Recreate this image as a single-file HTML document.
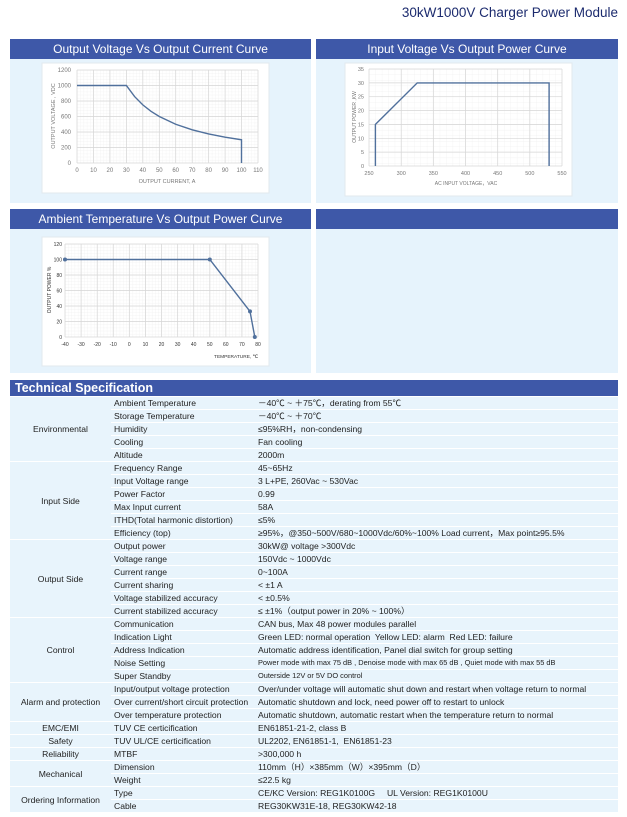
<!DOCTYPE html>
<html><head><meta charset="utf-8"><style>
html,body{margin:0;padding:0;background:#fff;width:627px;height:817px;overflow:hidden;position:relative;font-family:"Liberation Sans",Arial,sans-serif}
.abs{position:absolute}
.title{left:300px;width:318px;top:5px;text-align:right;font-size:13.5px;color:#1c2b6e}
.panel{background:#e6f3fc}
.hdr{background:#3e58a8;color:#fff;font-size:12px;text-align:center;line-height:20px;height:20px}
table{border-collapse:collapse;position:absolute;left:10px;top:396px;width:608px;table-layout:fixed;font-size:8.6px;color:#222}
td{height:12px;padding:0 0 0 3px;background:#e8f4fc;border-top:1px solid #fff;white-space:nowrap;overflow:hidden;line-height:12px}
td.g{text-align:center;padding:0}
</style></head><body>
<div class="abs title">30kW1000V Charger Power Module</div>

<div class="abs panel" style="left:10px;top:39px;width:301px;height:164px"></div>
<div class="abs panel" style="left:316px;top:39px;width:302px;height:164px"></div>
<div class="abs panel" style="left:10px;top:209px;width:301px;height:164px"></div>
<div class="abs panel" style="left:316px;top:209px;width:302px;height:164px"></div>
<div class="abs hdr" style="left:10px;top:39px;width:301px">Output Voltage Vs Output Current Curve</div>
<div class="abs hdr" style="left:316px;top:39px;width:302px">Input Voltage Vs Output Power Curve</div>
<div class="abs hdr" style="left:10px;top:209px;width:301px">Ambient Temperature Vs Output Power Curve</div>
<div class="abs hdr" style="left:316px;top:209px;width:302px"></div>
<div class="abs" style="left:10px;top:380px;width:608px;height:16px;background:#3e58a8;color:#fff;font-weight:bold;font-size:12.5px;line-height:16px;padding-left:5px;box-sizing:border-box">Technical Specification</div>

<svg class="abs" style="left:0;top:0" width="627" height="380" font-family="Liberation Sans,Arial,sans-serif">
<defs>
<pattern id="g1" x="77" y="70" width="3.29" height="3.1" patternUnits="userSpaceOnUse"><path d="M0 0V3.1M0 0H3.29" stroke="#efefef" stroke-width="0.6" fill="none"/></pattern>
<pattern id="g2" x="369" y="69" width="6.43" height="5.54" patternUnits="userSpaceOnUse"><path d="M0 0V5.54M0 0H6.43" stroke="#efefef" stroke-width="0.6" fill="none"/></pattern>
<pattern id="g3" x="65" y="244" width="3.22" height="3.1" patternUnits="userSpaceOnUse"><path d="M0 0V3.1M0 0H3.22" stroke="#efefef" stroke-width="0.6" fill="none"/></pattern>
</defs>
<rect x="42" y="63" width="227" height="130" fill="#fff" stroke="#e2e8ee"/>
<rect x="77" y="70" width="181" height="93" fill="url(#g1)"/>
<g stroke="#d6d6d6" stroke-width="0.7">
<path d="M77 70V163M93.5 70V163M109.9 70V163M126.4 70V163M142.8 70V163M159.3 70V163M175.7 70V163M192.2 70V163M208.6 70V163M225.1 70V163M241.5 70V163M258 70V163"/>
<path d="M77 70H258M77 85.5H258M77 101H258M77 116.5H258M77 132H258M77 147.5H258M77 163H258"/>
</g>
<polyline fill="none" stroke="#50709c" stroke-width="1.4" points="77,85.5 126.4,85.5 134.6,96.6 142.8,104.9 151,111.3 159.3,116.5 175.7,124.25 192.2,129.8 208.6,133.9 225.1,137.2 241.5,139.75 241.5,163"/>
<g font-size="6" fill="#777" text-anchor="end">
<text x="71" y="72">1200</text><text x="71" y="87.5">1000</text><text x="71" y="103">800</text><text x="71" y="118.5">600</text><text x="71" y="134">400</text><text x="71" y="149.5">200</text><text x="71" y="165">0</text></g>
<g font-size="6" fill="#777" text-anchor="middle">
<text x="77" y="172">0</text><text x="93.5" y="172">10</text><text x="109.9" y="172">20</text><text x="126.4" y="172">30</text><text x="142.8" y="172">40</text><text x="159.3" y="172">50</text><text x="175.7" y="172">60</text><text x="192.2" y="172">70</text><text x="208.6" y="172">80</text><text x="225.1" y="172">90</text><text x="241.5" y="172">100</text><text x="258" y="172">110</text>
<text x="167" y="183" font-size="5.5">OUTPUT CURRENT, A</text>
<text transform="translate(55,116) rotate(-90)" font-size="5.5">OUTPUT VOLTAGE , VDC</text></g>

<rect x="345" y="63" width="227" height="133" fill="#fff" stroke="#e2e8ee"/>
<rect x="369" y="69" width="193" height="97" fill="url(#g2)"/>
<g stroke="#d6d6d6" stroke-width="0.7">
<path d="M369 69V166M401.2 69V166M433.3 69V166M465.5 69V166M497.7 69V166M529.8 69V166M562 69V166"/>
<path d="M369 69H562M369 82.9H562M369 96.7H562M369 110.6H562M369 124.4H562M369 138.3H562M369 152.1H562M369 166H562"/>
</g>
<polyline fill="none" stroke="#50709c" stroke-width="1.4" points="375.4,166 375.4,124.4 417.2,82.9 549.1,82.9 549.1,166"/>
<g font-size="5.5" fill="#777" text-anchor="end">
<text x="364" y="71">35</text><text x="364" y="85">30</text><text x="364" y="98.7">25</text><text x="364" y="112.6">20</text><text x="364" y="126.4">15</text><text x="364" y="140.3">10</text><text x="364" y="154.1">5</text><text x="364" y="168">0</text></g>
<g font-size="5.5" fill="#777" text-anchor="middle">
<text x="369" y="175">250</text><text x="401.2" y="175">300</text><text x="433.3" y="175">350</text><text x="465.5" y="175">400</text><text x="497.7" y="175">450</text><text x="529.8" y="175">500</text><text x="562" y="175">550</text>
<text x="466" y="185" font-size="5">AC INPUT VOLTAGE，VAC</text>
<text transform="translate(356,117) rotate(-90)" font-size="5">OUTPUT POWER ,KW</text></g>

<rect x="42" y="237" width="227" height="129" fill="#fff" stroke="#e2e8ee"/>
<rect x="65" y="244" width="193" height="93" fill="url(#g3)"/>
<g stroke="#d6d6d6" stroke-width="0.7">
<path d="M65 244V337M81.1 244V337M97.2 244V337M113.2 244V337M129.3 244V337M145.4 244V337M161.5 244V337M177.6 244V337M193.7 244V337M209.8 244V337M225.8 244V337M241.9 244V337M258 244V337"/>
<path d="M65 244H258M65 259.5H258M65 275H258M65 290.5H258M65 306H258M65 321.5H258M65 337H258"/>
</g>
<polyline fill="none" stroke="#50709c" stroke-width="1.4" points="65,259.5 209.8,259.5 250,311.4 254.8,337"/>
<g fill="#50709c"><circle cx="65" cy="259.5" r="2"/><circle cx="209.8" cy="259.5" r="2"/><circle cx="250" cy="311.4" r="2"/><circle cx="254.8" cy="337" r="2"/></g>
<g font-size="5" fill="#333" text-anchor="end">
<text x="62" y="246">120</text><text x="62" y="261.5">100</text><text x="62" y="277">80</text><text x="62" y="292.5">60</text><text x="62" y="308">40</text><text x="62" y="323.5">20</text><text x="62" y="339">0</text></g>
<g font-size="5" fill="#333" text-anchor="middle">
<text x="65" y="346">-40</text><text x="81.1" y="346">-30</text><text x="97.2" y="346">-20</text><text x="113.2" y="346">-10</text><text x="129.3" y="346">0</text><text x="145.4" y="346">10</text><text x="161.5" y="346">20</text><text x="177.6" y="346">30</text><text x="193.7" y="346">40</text><text x="209.8" y="346">50</text><text x="225.8" y="346">60</text><text x="241.9" y="346">70</text><text x="258" y="346">80</text>
<text x="236" y="358" font-size="4.8">TEMPERATURE, ℃</text>
<text transform="translate(51,290) rotate(-90)" font-size="5">OUTPUT POWER %</text></g>
</svg>

<table>
<colgroup><col style="width:101px"><col style="width:144px"><col></colgroup>
<tr><td class="g" rowspan="5">Environmental</td><td>Ambient Temperature</td><td>－40℃ ~ ＋75℃，derating from 55℃</td></tr>
<tr><td>Storage Temperature</td><td>－40℃ ~ ＋70℃</td></tr>
<tr><td>Humidity</td><td>≤95%RH，non-condensing</td></tr>
<tr><td>Cooling</td><td>Fan cooling</td></tr>
<tr><td>Altitude</td><td>2000m</td></tr>
<tr><td class="g" rowspan="6">Input Side</td><td>Frequency Range</td><td>45~65Hz</td></tr>
<tr><td>Input Voltage range</td><td>3 L+PE, 260Vac ~ 530Vac</td></tr>
<tr><td>Power Factor</td><td>0.99</td></tr>
<tr><td>Max Input current</td><td>58A</td></tr>
<tr><td>ITHD(Total harmonic distortion)</td><td>≤5%</td></tr>
<tr><td>Efficiency (top)</td><td>≥95%，@350~500V/680~1000Vdc/60%~100% Load current，Max point≥95.5%</td></tr>
<tr><td class="g" rowspan="6">Output Side</td><td>Output power</td><td>30kW@ voltage &gt;300Vdc</td></tr>
<tr><td>Voltage range</td><td>150Vdc ~ 1000Vdc</td></tr>
<tr><td>Current range</td><td>0~100A</td></tr>
<tr><td>Current sharing</td><td>&lt; ±1 A</td></tr>
<tr><td>Voltage stabilized accuracy</td><td>&lt; ±0.5%</td></tr>
<tr><td>Current stabilized accuracy</td><td>≤ ±1%（output power in 20% ~ 100%）</td></tr>
<tr><td class="g" rowspan="5">Control</td><td>Communication</td><td>CAN bus, Max 48 power modules parallel</td></tr>
<tr><td>Indication Light</td><td>Green LED: normal operation&nbsp; Yellow LED: alarm&nbsp; Red LED: failure</td></tr>
<tr><td>Address Indication</td><td>Automatic address identification, Panel dial switch for group setting</td></tr>
<tr><td>Noise Setting</td><td style="font-size:7.4px">Power mode with max 75 dB , Denoise mode with max 65 dB , Quiet mode with max 55 dB</td></tr>
<tr><td>Super Standby</td><td style="font-size:7.4px">Outerside 12V or 5V DO control</td></tr>
<tr><td class="g" rowspan="3">Alarm and protection</td><td>Input/output voltage protection</td><td>Over/under voltage will automatic shut down and restart when voltage return to normal</td></tr>
<tr><td>Over current/short circuit protection</td><td>Automatic shutdown and lock, need power off to restart to unlock</td></tr>
<tr><td>Over temperature protection</td><td>Automatic shutdown, automatic restart when the temperature return to normal</td></tr>
<tr><td class="g">EMC/EMI</td><td>TUV CE certicification</td><td>EN61851-21-2, class B</td></tr>
<tr><td class="g">Safety</td><td>TUV UL/CE certicification</td><td>UL2202, EN61851-1,&nbsp; EN61851-23</td></tr>
<tr><td class="g">Reliability</td><td>MTBF</td><td>&gt;300,000 h</td></tr>
<tr><td class="g" rowspan="2">Mechanical</td><td>Dimension</td><td>110mm（H）×385mm（W）×395mm（D）</td></tr>
<tr><td>Weight</td><td>≤22.5 kg</td></tr>
<tr><td class="g" rowspan="2">Ordering Information</td><td>Type</td><td>CE/KC Version: REG1K0100G&nbsp;&nbsp;&nbsp;&nbsp; UL Version: REG1K0100U</td></tr>
<tr><td>Cable</td><td>REG30KW31E-18, REG30KW42-18</td></tr>
</table>
</body></html>
